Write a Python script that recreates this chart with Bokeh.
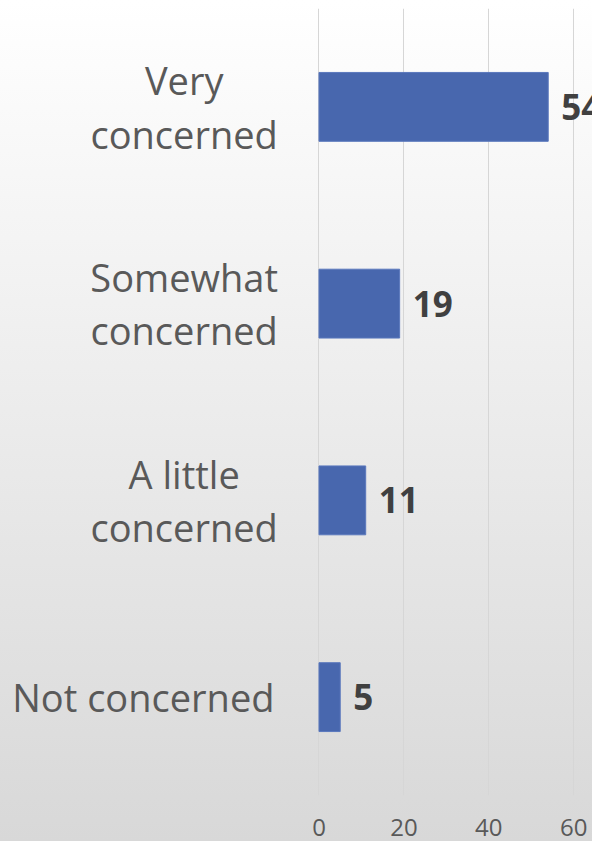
from bokeh.plotting import figure
from bokeh.models import ColumnDataSource, FactorRange, Range1d, FixedTicker
from bokeh.core.properties import value
from bokeh.embed import file_html
from bokeh.resources import INLINE

categories = ["Very\nconcerned", "Somewhat\nconcerned", "A little\nconcerned", "Not concerned"]
values = [54, 19, 11, 5]
value_labels = ["54", "19", "11", "5"]
x_ticks = [0, 20, 40, 60]

LABEL_SIZE = 38
AVG_CHAR_EM = 0.537
RIGHT_GAP = -43
# centre each (multi-line) label block so its right edge sits RIGHT_GAP px left of the axis
label_offsets = [RIGHT_GAP - AVG_CHAR_EM * LABEL_SIZE * max(len(s) for s in c.split("\n")) / 2
                 for c in categories]

src = ColumnDataSource(dict(cat=categories, val=values, lab=value_labels,
                            zero=[0] * len(values), loff=label_offsets))

p = figure(width=592, height=841, output_backend="svg", toolbar_location=None,
           y_range=FactorRange(factors=list(reversed(categories)), range_padding=0),
           x_range=Range1d(-75.03, 64.43),
           min_border_left=0, min_border_right=0, min_border_top=8, min_border_bottom=46)
p.styles = {"background": "linear-gradient(to bottom, #ffffff, #d8d8d8)"}
p.background_fill_color = None
p.border_fill_color = None
p.outline_line_color = None

p.hbar(y="cat", left="zero", right="val", height=0.35, source=src,
       fill_color="#4867AE", line_color="#5a78bd", line_width=1)

p.text(x="val", y="cat", text="lab", source=src, x_offset=13,
       text_font=value("Open Sans"), text_font_size="35px", text_font_style="bold",
       text_color="#404040", text_baseline="middle", text_align="left")

p.text(x="zero", y="cat", text="cat", source=src, x_offset="loff",
       text_font=value("Open Sans"), text_font_size=f"{LABEL_SIZE}px",
       text_color="#595959", text_baseline="middle", text_align="center",
       text_line_height=1.03)

p.yaxis.visible = False
p.ygrid.grid_line_color = None
p.xgrid.ticker = FixedTicker(ticks=x_ticks)
p.xgrid.grid_line_color = "#d6d6d6"
p.xaxis.ticker = FixedTicker(ticks=x_ticks)
p.xaxis.axis_line_color = None
p.xaxis.major_tick_line_color = None
p.xaxis.minor_tick_line_color = None
p.xaxis.major_label_text_font = "Open Sans"
p.xaxis.major_label_text_font_size = "24px"
p.xaxis.major_label_text_color = "#595959"
p.xaxis.major_label_standoff = 17

open("out.html", "w").write(file_html(p, INLINE))
